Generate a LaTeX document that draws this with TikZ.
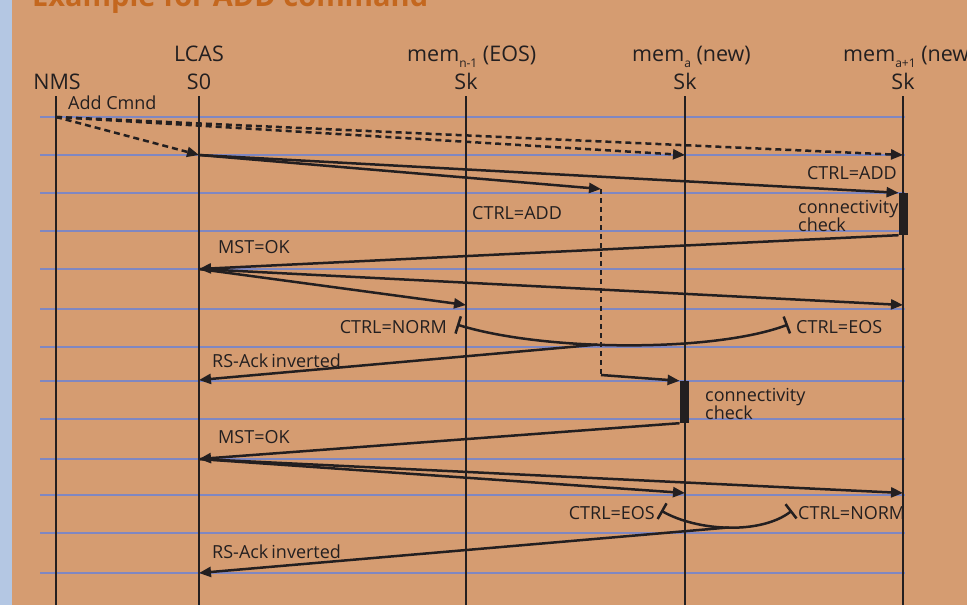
\documentclass[tikz,border=0pt]{standalone}
\usepackage{fontspec}
\setmainfont{Open Sans}
\usetikzlibrary{arrows.meta}
\definecolor{paper}{HTML}{D59C71}
\definecolor{strip}{HTML}{B4C7E3}
\definecolor{rule}{HTML}{7F87C1}
\definecolor{ink}{HTML}{231F20}
\definecolor{ttlorange}{HTML}{C4671E}
\tikzset{
  ttl/.style={font=\fontsize{29}{31}\selectfont\bfseries,text=ttlorange,inner sep=0pt},
  hd/.style={font=\fontsize{21.5}{23}\selectfont,text=ink,inner sep=0pt,anchor=base},
  lab/.style={font=\fontsize{18}{18}\selectfont,text=ink,inner sep=0pt},
  life/.style={draw=ink,line width=2.3pt},
  rowline/.style={draw=rule,line width=2.5pt},
  msg/.style={draw=ink,line width=2.5pt,-{Triangle[length=12pt,width=10pt]}},
  cmd/.style={msg,dash pattern=on 6pt off 4pt},
  actbar/.style={fill=ink,minimum width=9.5pt,minimum height=42pt,inner sep=0pt},
  brace/.style={draw=ink,line width=2.5pt,{Bar[width=18pt]}-{Bar[width=18pt]}},
}
\newcommand{\lowsub}[1]{\raisebox{-6pt}{\fontsize{12}{13}\selectfont #1}}

\begin{document}
\begin{tikzpicture}[x=1pt,y=-1pt]
  \useasboundingbox (0,0) rectangle (967,605);
  \fill[paper] (0,0) rectangle (967,605);
  \fill[strip] (0,0) rectangle (12,605);
  \node[ttl,anchor=base west] (title) at (32,6) {Example for ADD command};

  % headers
  \node[hd] (hnms) at (57,89) {NMS};
  \node[hd] (hlcas) at (199,61) {LCAS};
  \node[hd] (hs0) at (199,89) {S0};
  \node[hd,anchor=base west] (hmemn) at (407,61) {mem\lowsub{n-1} (EOS)};
  \node[hd] (hskn) at (466,89) {Sk};
  \node[hd,anchor=base west] (hmema) at (632,61) {mem\lowsub{a} (new)};
  \node[hd] (hska) at (685,89) {Sk};
  \node[hd,anchor=base west] (hmemb) at (843,61) {mem\lowsub{a+1} (new)};
  \node[hd] (hskb) at (903,89) {Sk};

  % time rows and lifelines
  \foreach \y in {117,155,193,231,269,309,347,381,419,459,495,533,573}
    \draw[rowline] (40,\y) -- (905,\y);
  \foreach \x in {56,199,466,685,903}
    \draw[life] (\x,96) -- (\x,612);

  \node[lab,anchor=base west] (addcmd) at (68,109) {Add Cmnd};

  % message end points
  \coordinate (nms1) at (56,117);
  \coordinate (lcas1) at (199,155);
  \coordinate (mema1) at (685,155);
  \coordinate (memb1) at (903,155);
  \coordinate (turn1) at (601,189);
  \coordinate (turn2) at (601,375);
  \coordinate (lcas2) at (199,269);
  \coordinate (memn2) at (466,305);
  \coordinate (memb2) at (903,305);
  \coordinate (lcas3) at (199,380);
  \coordinate (lcas4) at (199,459);
  \coordinate (mema4) at (685,493);
  \coordinate (memb4) at (903,493);
  \coordinate (lcas5) at (199,573);

  \node[actbar] (chk1) at (903.5,214) {};
  \node[actbar] (chk2) at (684.5,402) {};

  % add command
  \draw[cmd] (nms1) -- (lcas1);
  \draw[cmd] (nms1) -- (mema1);
  \draw[cmd] (nms1) -- (memb1);

  \draw[msg] (lcas1) -- (chk1.north west);
  \node[lab,anchor=base east] (ctrl1) at (897,179) {CTRL=ADD};
  \draw[msg] (lcas1) -- (turn1);
  \node[lab,anchor=base west] (ctrl2) at (472,219) {CTRL=ADD};
  \draw[cmd,-,dash pattern=on 5pt off 4pt] (turn1) -- (turn2);
  \draw[msg] (turn2) -- (chk2.north west);

  \node[lab,anchor=west,align=left] (conn1) at (798,216) {connectivity\\check};
  \draw[msg] (chk1.south west) -- (lcas2);
  \node[lab,anchor=base west] (mst1) at (218,253) {MST=OK};
  \draw[msg] (lcas2) -- (memn2);
  \draw[msg] (lcas2) -- (memb2);

  \node[lab,anchor=base east] (nrm1) at (447,333) {CTRL=NORM};
  \node[lab,anchor=base west] (eos1) at (796,333) {CTRL=EOS};
  \draw[brace] ([xshift=10pt,yshift=2pt]nrm1.east) .. controls +(87,27) and +(-74,28) .. ([xshift=-8pt,yshift=2pt]eos1.west)
    coordinate[pos=0.42] (ack1);
  \draw[msg] (ack1) -- (lcas3);
  \node[lab,anchor=base west] (rs1) at (212,367) {RS-Ack\,inverted};

  \node[lab,anchor=west,align=left] (conn2) at (705,404) {connectivity\\check};
  \draw[msg] (chk2.south west) -- (lcas4);
  \node[lab,anchor=base west] (mst2) at (218,443) {MST=OK};
  \draw[msg] (lcas4) -- (mema4);
  \draw[msg] (lcas4) -- (memb4);

  \node[lab,anchor=base east] (eos2) at (655,519) {CTRL=EOS};
  \node[lab,anchor=base west] (nrm2) at (798,519) {CTRL=NORM};
  \draw[brace] ([xshift=6pt,yshift=2pt]eos2.east) .. controls +(37,21) and +(-31,24) .. ([xshift=-6pt,yshift=2pt]nrm2.west)
    coordinate[pos=0.5] (ack2);
  \draw[msg] (ack2) -- (lcas5);
  \node[lab,anchor=base west] (rs2) at (212,558) {RS-Ack\,inverted};

  \node[actbar] at (chk1) {};
  \node[actbar] at (chk2) {};
\end{tikzpicture}
\end{document}
